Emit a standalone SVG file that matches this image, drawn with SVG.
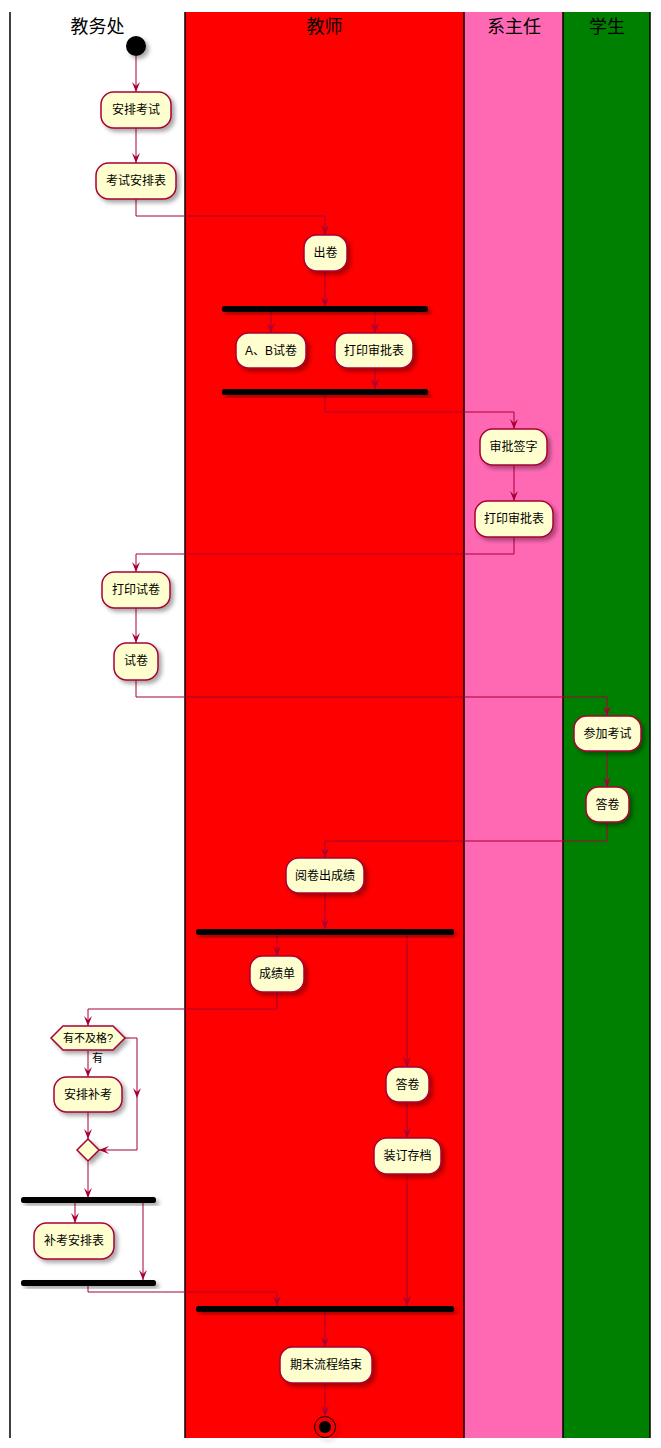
<svg xmlns="http://www.w3.org/2000/svg" width="661" height="1448" viewBox="0 0 661 1448">
<style>
.lane-title{font-family:"Liberation Sans","Noto Sans CJK SC",sans-serif;font-size:18px;fill:#000;text-anchor:middle}
.node rect{fill:#FEFECE;stroke:#A80036;stroke-width:1.5}
.node text{font-family:"Liberation Sans","Noto Sans CJK SC",sans-serif;font-size:12px;fill:#000;text-anchor:middle}
.bar{fill:#000}
.conn{fill:none;stroke:#A80036;stroke-width:1}
.lbl{font-family:"Liberation Sans","Noto Sans CJK SC",sans-serif;font-size:11px;fill:#000}
.lane-line{stroke:#000;stroke-width:1.5}
</style>
<defs>
<filter id="sh" x="-30%" y="-30%" width="170%" height="180%">
<feDropShadow dx="3" dy="3" stdDeviation="2" flood-color="#000" flood-opacity="0.35"/>
</filter>
<marker id="ah" viewBox="0 0 10 8" refX="10" refY="4" markerWidth="10" markerHeight="8" markerUnits="userSpaceOnUse" orient="auto">
<path d="M0,0 L10,4 L0,8 L4,4 Z" fill="#A80036"/>
</marker>
</defs>
<rect x="0" y="0" width="661" height="1448" fill="#fff"/>
<g id="lanes">
<rect x="10" y="12" width="175" height="1426" fill="#FFFFFF"/>
<rect x="185" y="12" width="279" height="1426" fill="#FF0000"/>
<rect x="464" y="12" width="99" height="1426" fill="#FF69B4"/>
<rect x="563" y="12" width="87" height="1426" fill="#008000"/>
<line class="lane-line" x1="10" y1="12" x2="10" y2="1438"/>
<line class="lane-line" x1="185" y1="12" x2="185" y2="1438"/>
<line class="lane-line" x1="464" y1="12" x2="464" y2="1438"/>
<line class="lane-line" x1="563" y1="12" x2="563" y2="1438"/>
<line class="lane-line" x1="650" y1="12" x2="650" y2="1438"/>
<text class="lane-title" x="97.5" y="33">教务处</text>
<text class="lane-title" x="324.5" y="33">教师</text>
<text class="lane-title" x="514" y="33">系主任</text>
<text class="lane-title" x="607" y="33">学生</text>
</g>
<g id="connectors">
<path class="conn" d="M136,56 V92" marker-end="url(#ah)"/>
<path class="conn" d="M136,128 V163" marker-end="url(#ah)"/>
<path class="conn" d="M136,199 V216 H325 V235" marker-end="url(#ah)"/>
<path class="conn" d="M325,271 V307" marker-end="url(#ah)"/>
<path class="conn" d="M271,312 V333" marker-end="url(#ah)"/>
<path class="conn" d="M375,312 V333" marker-end="url(#ah)"/>
<path class="conn" d="M375,368 V389" marker-end="url(#ah)"/>
<path class="conn" d="M325,394 V412 H514 V429" marker-end="url(#ah)"/>
<path class="conn" d="M514,465 V501" marker-end="url(#ah)"/>
<path class="conn" d="M514,537 V554 H136 V572" marker-end="url(#ah)"/>
<path class="conn" d="M136,608 V643" marker-end="url(#ah)"/>
<path class="conn" d="M136,680 V697 H607 V716" marker-end="url(#ah)"/>
<path class="conn" d="M607,751 V787" marker-end="url(#ah)"/>
<path class="conn" d="M607,822 V841 H325 V858" marker-end="url(#ah)"/>
<path class="conn" d="M325,893 V929" marker-end="url(#ah)"/>
<path class="conn" d="M277,935 V956" marker-end="url(#ah)"/>
<path class="conn" d="M407,935 V1067" marker-end="url(#ah)"/>
<path class="conn" d="M277,992 V1009 H88 V1026" marker-end="url(#ah)"/>
<path class="conn" d="M88,1051 V1077" marker-end="url(#ah)"/>
<text class="lbl" x="92" y="1062">有</text>
<path class="conn" d="M125,1038 H137 V1098" marker-end="url(#ah)"/>
<path class="conn" d="M137,1098 V1150 H99" marker-end="url(#ah)"/>
<path class="conn" d="M88,1112 V1139" marker-end="url(#ah)"/>
<path class="conn" d="M88,1162 V1198" marker-end="url(#ah)"/>
<path class="conn" d="M75,1202 V1223" marker-end="url(#ah)"/>
<path class="conn" d="M143,1202 V1280" marker-end="url(#ah)"/>
<path class="conn" d="M88,1285 V1292 H277 V1306" marker-end="url(#ah)"/>
<path class="conn" d="M407,1102 V1138" marker-end="url(#ah)"/>
<path class="conn" d="M407,1174 V1306" marker-end="url(#ah)"/>
<path class="conn" d="M325,1311 V1347" marker-end="url(#ah)"/>
<path class="conn" d="M325,1383 V1416" marker-end="url(#ah)"/>
</g>
<g id="start"><circle cx="136" cy="46" r="10" fill="#000" filter="url(#sh)"/></g>
<g id="n1" class="node"><rect x="101" y="92" width="70" height="36" rx="12.5" filter="url(#sh)"/><text x="136" y="114">安排考试</text></g>
<g id="n2" class="node"><rect x="96" y="163" width="80" height="36" rx="12.5" filter="url(#sh)"/><text x="136" y="185">考试安排表</text></g>
<g id="n3" class="node"><rect x="304" y="235" width="43" height="36" rx="12.5" filter="url(#sh)"/><text x="325.5" y="257">出卷</text></g>
<g id="fork1"><rect class="bar" x="222" y="306" width="206" height="6" rx="2.5" filter="url(#sh)"/></g>
<g id="n4" class="node"><rect x="236" y="333" width="70" height="35" rx="12.5" filter="url(#sh)"/><text x="271" y="355">A、B试卷</text></g>
<g id="n5" class="node"><rect x="335" y="333" width="78" height="35" rx="12.5" filter="url(#sh)"/><text x="374" y="355">打印审批表</text></g>
<g id="join1"><rect class="bar" x="222" y="389" width="206" height="6" rx="2.5" filter="url(#sh)"/></g>
<g id="n6" class="node"><rect x="480" y="429" width="67" height="36" rx="12.5" filter="url(#sh)"/><text x="513.5" y="451">审批签字</text></g>
<g id="n7" class="node"><rect x="475" y="501" width="78" height="36" rx="12.5" filter="url(#sh)"/><text x="514" y="523">打印审批表</text></g>
<g id="n8" class="node"><rect x="102" y="572" width="68" height="36" rx="12.5" filter="url(#sh)"/><text x="136" y="594">打印试卷</text></g>
<g id="n9" class="node"><rect x="114" y="643" width="44" height="37" rx="12.5" filter="url(#sh)"/><text x="136" y="665">试卷</text></g>
<g id="n10" class="node"><rect x="574" y="716" width="67" height="35" rx="12.5" filter="url(#sh)"/><text x="607.5" y="738">参加考试</text></g>
<g id="n11" class="node"><rect x="586" y="787" width="43" height="35" rx="12.5" filter="url(#sh)"/><text x="607.5" y="809">答卷</text></g>
<g id="n12" class="node"><rect x="286" y="858" width="78" height="35" rx="12.5" filter="url(#sh)"/><text x="325" y="880">阅卷出成绩</text></g>
<g id="fork2"><rect class="bar" x="196" y="929" width="258" height="6" rx="2.5" filter="url(#sh)"/></g>
<g id="n13" class="node"><rect x="250" y="956" width="54" height="36" rx="12.5" filter="url(#sh)"/><text x="277" y="978">成绩单</text></g>
<g id="d1" class="node"><polygon points="51,1038 63,1026 113,1026 125,1038 113,1050 63,1050" fill="#FEFECE" stroke="#A80036" stroke-width="1.5" filter="url(#sh)"/><text x="88" y="1042" style="font-size:11px">有不及格?</text></g>
<g id="n14" class="node"><rect x="54" y="1077" width="68" height="35" rx="12.5" filter="url(#sh)"/><text x="88" y="1099">安排补考</text></g>
<g id="d2" class="node"><polygon points="88,1139 99,1150 88,1161 77,1150" fill="#FEFECE" stroke="#A80036" stroke-width="1.5" filter="url(#sh)"/></g>
<g id="fork3"><rect class="bar" x="21" y="1197" width="135" height="6" rx="2.5" filter="url(#sh)"/></g>
<g id="n15" class="node"><rect x="34" y="1223" width="80" height="36" rx="12.5" filter="url(#sh)"/><text x="74" y="1245">补考安排表</text></g>
<g id="join3"><rect class="bar" x="21" y="1280" width="135" height="6" rx="2.5" filter="url(#sh)"/></g>
<g id="n16" class="node"><rect x="386" y="1067" width="43" height="35" rx="12.5" filter="url(#sh)"/><text x="407.5" y="1089">答卷</text></g>
<g id="n17" class="node"><rect x="374" y="1138" width="67" height="36" rx="12.5" filter="url(#sh)"/><text x="407.5" y="1160">装订存档</text></g>
<g id="join2"><rect class="bar" x="196" y="1306" width="258" height="6" rx="2.5" filter="url(#sh)"/></g>
<g id="n18" class="node"><rect x="280" y="1347" width="92" height="36" rx="12.5" filter="url(#sh)"/><text x="326" y="1369">期末流程结束</text></g>
<g id="end"><circle cx="325" cy="1427" r="10.5" fill="none" stroke="#000" stroke-width="1" filter="url(#sh)"/><circle cx="325" cy="1427" r="6" fill="#000"/></g>
</svg>
